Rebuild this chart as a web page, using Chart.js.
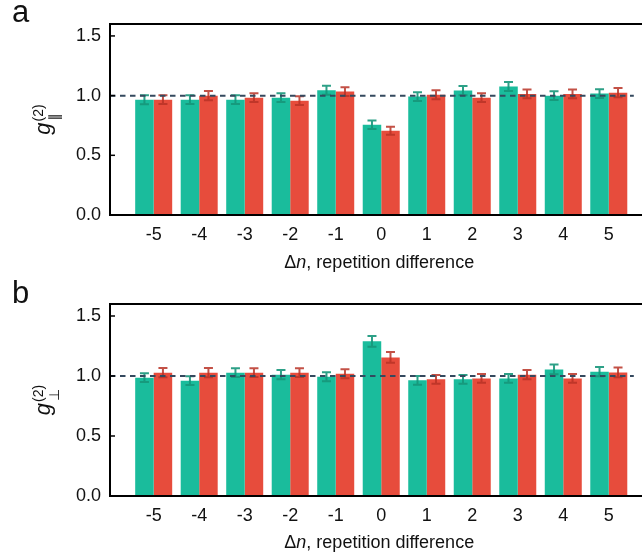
<!DOCTYPE html>
<html>
<head>
<meta charset="utf-8">
<script src="https://cdn.jsdelivr.net/npm/chart.js@4/dist/chart.umd.min.js"></script>
<style>
  html, body { margin: 0; padding: 0; background: #fff; overflow: hidden; }
  .panel { position: absolute; left: 0; }
  #panelA { top: 0; }
  #panelB { top: 280px; }
</style>
</head>
<body>
<div class="panel" id="panelA"><canvas id="chartA" width="642" height="280"></canvas></div>
<div class="panel" id="panelB"><canvas id="chartB" width="642" height="277"></canvas></div>
<script>
// repetition difference, Δn
const deltaN = [-5, -4, -3, -2, -1, 0, 1, 2, 3, 4, 5];
const yTicks = [0, 0.5, 1.0, 1.5];
const referenceLevel = 1.0;

// panel a, g(2) parallel
const parGreen    = [0.966, 0.966, 0.966, 0.983, 1.045, 0.756, 0.992, 1.042, 1.076, 1.000, 1.017];
const parGreenErr = [0.038, 0.037, 0.037, 0.037, 0.038, 0.036, 0.037, 0.038, 0.038, 0.037, 0.037];
const parRed      = [0.966, 1.000, 0.983, 0.958, 1.034, 0.706, 1.008, 0.983, 1.014, 1.014, 1.025];
const parRedErr   = [0.037, 0.038, 0.037, 0.037, 0.037, 0.034, 0.038, 0.037, 0.037, 0.037, 0.038];

// panel b, g(2) perpendicular
const perpGreen    = [0.986, 0.961, 1.028, 1.011, 0.994, 1.289, 0.964, 0.972, 0.980, 1.055, 1.036];
const perpGreenErr = [0.037, 0.037, 0.037, 0.038, 0.037, 0.045, 0.037, 0.037, 0.037, 0.040, 0.038];
const perpRed      = [1.028, 1.028, 1.028, 1.028, 1.019, 1.155, 0.972, 0.980, 1.011, 0.980, 1.030];
const perpRedErr   = [0.038, 0.038, 0.037, 0.037, 0.037, 0.045, 0.037, 0.037, 0.038, 0.037, 0.040];

const GREEN = "#1abc9c", GREEN_ERR = "rgba(22,150,122,0.9)";
const RED = "#e74c3c", RED_ERR = "rgba(185,50,38,0.85)";
const FONT = "'Liberation Sans', Arial, sans-serif";
const INK = "#111";

/* ---------- overlay: error bars, reference line, frame, titles ---------- */
const overlay = {
  id: "overlay",
  afterDatasetsDraw(chart, args, opts) {
    const c = chart.ctx, y = chart.scales.y, x = chart.scales.x, area = chart.chartArea;
    c.save();
    // error bars
    chart.data.datasets.forEach((ds, di) => {
      const meta = chart.getDatasetMeta(di);
      c.strokeStyle = ds.errColor;
      c.lineWidth = 2;
      meta.data.forEach((bar, i) => {
        const v = ds.data[i].y, e = ds.errors[i];
        const top = y.getPixelForValue(v + e), bot = y.getPixelForValue(v - e);
        c.beginPath();
        c.moveTo(bar.x, top); c.lineTo(bar.x, bot);
        c.moveTo(bar.x - 4.5, top); c.lineTo(bar.x + 4.5, top);
        c.moveTo(bar.x - 4.5, bot); c.lineTo(bar.x + 4.5, bot);
        c.stroke();
      });
    });
    // dashed reference line
    const ry = y.getPixelForValue(referenceLevel);
    c.strokeStyle = "#34495e";
    c.lineWidth = 2;
    c.setLineDash([5.5, 4.5]);
    c.beginPath();
    c.moveTo(area.left, ry);
    c.lineTo(x.getPixelForValue(5.55), ry);
    c.stroke();
    c.restore();
  },
  afterDraw(chart, args, opts) {
    const c = chart.ctx, y = chart.scales.y, x = chart.scales.x, area = chart.chartArea;
    c.save();
    // frame (left, top, bottom)
    c.strokeStyle = "#000";
    c.lineWidth = 2;
    c.beginPath();
    c.moveTo(chart.width, area.top); c.lineTo(area.left, area.top);
    c.lineTo(area.left, area.bottom); c.lineTo(chart.width, area.bottom);
    c.stroke();
    // inward y ticks
    c.lineWidth = 1.5;
    yTicks.forEach(t => {
      const py = y.getPixelForValue(t);
      c.beginPath(); c.moveTo(area.left, py); c.lineTo(area.left + 5, py); c.stroke();
    });
    c.fillStyle = INK;
    // panel letter
    c.font = "31px " + FONT;
    c.textBaseline = "alphabetic";
    c.textAlign = "left";
    c.fillText(opts.letter, 12, opts.letterY);
    // x title: Δn, repetition difference
    const parts = [["Δ", "18px " + FONT], ["n", "italic 18px " + FONT], [", repetition difference", "18px " + FONT]];
    let w = 0;
    parts.forEach(p => { c.font = p[1]; w += c.measureText(p[0]).width; });
    let tx = x.getPixelForValue(0) - 2 - w / 2;
    parts.forEach(p => { c.font = p[1]; c.fillText(p[0], tx, 268); tx += c.measureText(p[0]).width; });
    // y title: g^(2) with subscript
    c.translate(50, (area.top + area.bottom) / 2);
    c.rotate(-Math.PI / 2);
    c.font = "italic 22px " + FONT;
    const gw = c.measureText("g").width;
    c.font = "14px " + FONT;
    const sw = c.measureText("(2)").width;
    const start = -(gw + 1 + sw) / 2;
    c.font = "italic 22px " + FONT;
    c.fillText("g", start, 0);
    c.font = "14px " + FONT;
    c.fillText("(2)", start + gw + 1, -7);
    c.font = "14px 'DejaVu Sans', " + FONT;
    c.fillText(opts.sub, start + gw + 2, 9);
    c.restore();
  }
};

function makeChart(canvasId, green, greenErr, red, redErr, xHeight, letter, letterY, sub) {
  return new Chart(document.getElementById(canvasId), {
    type: "bar",
    data: {
      datasets: [
        { label: "green", data: deltaN.map((n, i) => ({ x: n, y: green[i] })), errors: greenErr,
          backgroundColor: GREEN, errColor: GREEN_ERR, borderWidth: 0 },
        { label: "red", data: deltaN.map((n, i) => ({ x: n, y: red[i] })), errors: redErr,
          backgroundColor: RED, errColor: RED_ERR, borderWidth: 0 }
      ]
    },
    options: {
      responsive: false,
      animation: false,
      devicePixelRatio: 1,
      categoryPercentage: 0.813,
      barPercentage: 1.0,
      layout: { padding: { left: 0, right: 0, top: 24, bottom: 0 } },
      scales: {
        x: {
          type: "linear", min: -5.96, max: 5.73, offset: false,
          grid: { display: false, drawTicks: false }, border: { display: false },
          afterBuildTicks: s => { s.ticks = deltaN.map(v => ({ value: v })); },
          afterFit: s => { s.height = xHeight; },
          ticks: { callback: v => String(v), color: INK, font: { size: 18, family: FONT }, padding: 9, maxRotation: 0, autoSkip: false }
        },
        y: {
          min: 0, max: 1.6,
          grid: { display: false, drawTicks: false }, border: { display: false },
          afterBuildTicks: s => { s.ticks = yTicks.map(v => ({ value: v })); },
          afterFit: s => { s.width = 110; },
          ticks: { callback: v => v.toFixed(1), color: INK, font: { size: 18, family: FONT }, padding: 9 }
        }
      },
      plugins: {
        legend: { display: false },
        tooltip: { enabled: false },
        overlay: { letter, letterY, sub }
      }
    },
    plugins: [overlay]
  });
}

makeChart("chartA", parGreen, parGreenErr, parRed, parRedErr, 65, "a", 22, "\u2225");
makeChart("chartB", perpGreen, perpGreenErr, perpRed, perpRedErr, 61, "b", 23, "\u22A5");
</script>
</body>
</html>
